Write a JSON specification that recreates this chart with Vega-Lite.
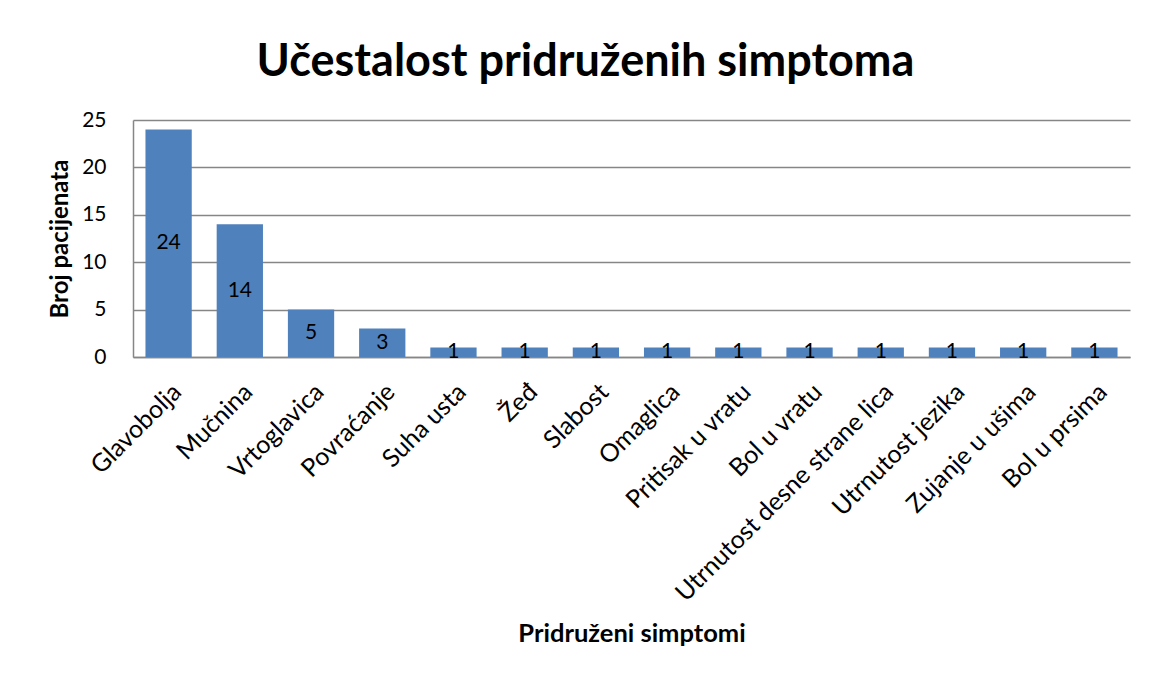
{
  "$schema": "https://vega.github.io/schema/vega-lite/v6.json",
  "width": 997,
  "height": 237,
  "autosize": "none",
  "padding": {"left": 133, "top": 120, "right": 21, "bottom": 317},
  "background": "white",
  "config": {"view": {"stroke": null}, "font": "Lato"},
  "title": {
    "text": "Učestalost pridruženih simptoma",
    "fontSize": 45,
    "font": "Lato",
    "fontWeight": "bold",
    "color": "#000000",
    "baseline": "alphabetic",
    "offset": -12,
    "dx": -46
  },
  "data": {
    "values": [
      {"simptom": "Glavobolja", "n": 24},
      {"simptom": "Mučnina", "n": 14},
      {"simptom": "Vrtoglavica", "n": 5},
      {"simptom": "Povraćanje", "n": 3},
      {"simptom": "Suha usta", "n": 1},
      {"simptom": "Žeđ", "n": 1},
      {"simptom": "Slabost", "n": 1},
      {"simptom": "Omaglica", "n": 1},
      {"simptom": "Pritisak u vratu", "n": 1},
      {"simptom": "Bol u vratu", "n": 1},
      {"simptom": "Utrnutost desne strane lica", "n": 1},
      {"simptom": "Utrnutost jezika", "n": 1},
      {"simptom": "Zujanje u ušima", "n": 1},
      {"simptom": "Bol u prsima", "n": 1}
    ]
  },
  "encoding": {
    "x": {
      "field": "simptom",
      "type": "nominal",
      "sort": null,
      "scale": {"paddingInner": 0.35, "paddingOuter": 0.175},
      "axis": {
        "title": "Pridruženi simptomi",
        "titleFontSize": 25.5,
        "titleFontWeight": "bold",
        "titleColor": "#000000",
        "titlePadding": 64,
        "labelAngle": -45,
        "labelFontSize": 25,
        "labelColor": "#000000",
        "labelPadding": 22,
        "labelLimit": 500,
        "ticks": false,
        "domainColor": "#868686",
        "domainWidth": 1.5
      }
    }
  },
  "layer": [
    {
      "mark": {"type": "bar", "color": "#4F81BD"},
      "encoding": {
        "y": {
          "field": "n",
          "type": "quantitative",
          "scale": {"domain": [0, 25], "nice": false},
          "axis": {
            "title": "Broj pacijenata",
            "titleFontSize": 24,
            "titleFontWeight": "bold",
            "titleColor": "#000000",
            "titlePadding": 9,
            "values": [0, 5, 10, 15, 20, 25],
            "labelFontSize": 21,
            "labelColor": "#000000",
            "labelPadding": 27,
            "ticks": false,
            "grid": true,
            "gridColor": "#868686",
            "gridWidth": 1.5,
            "domainColor": "#868686",
            "domainWidth": 1.5
          }
        }
      }
    },
    {
      "transform": [{"calculate": "datum.n / 2", "as": "mid"}],
      "mark": {"type": "text", "fontSize": 21, "color": "#000000", "baseline": "middle", "font": "Lato"},
      "encoding": {
        "y": {"field": "mid", "type": "quantitative"},
        "text": {"field": "n", "type": "quantitative"}
      }
    }
  ]
}
